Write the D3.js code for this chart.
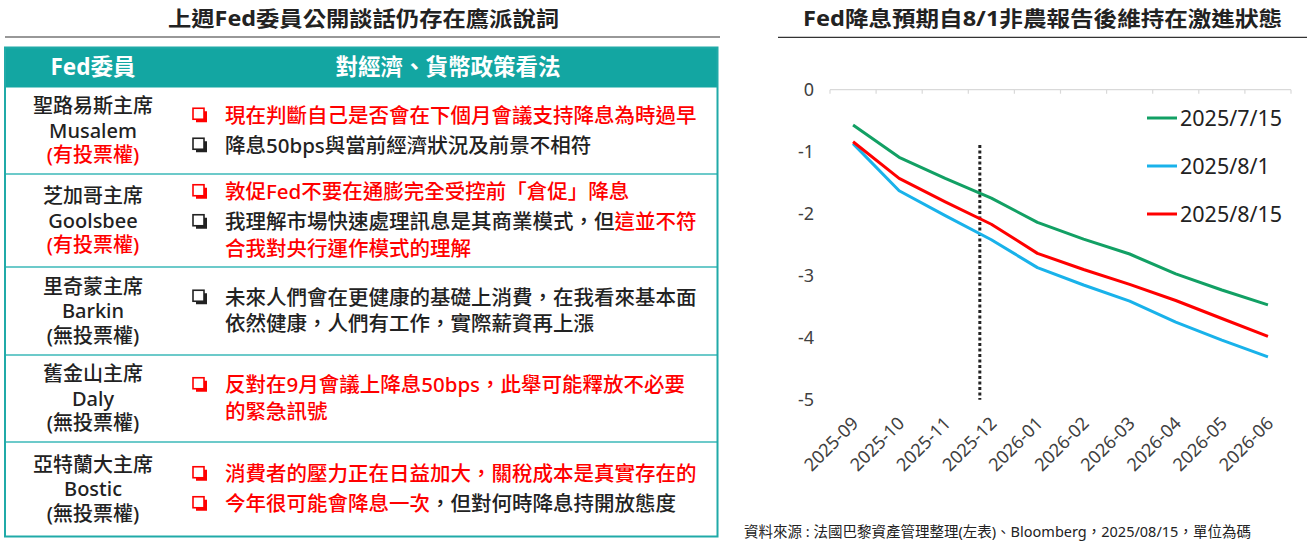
<!DOCTYPE html>
<html>
<head>
<meta charset="utf-8">
<script src="https://cdn.jsdelivr.net/npm/d3@7"></script>
<style>
  body { margin: 0; background: #fff; }
  svg { display: block; font-family: "Noto Sans", "Noto Sans CJK TC", sans-serif; }
</style>
</head>
<body>
<svg id="chart" width="1311" height="541"></svg>
<script>
// ---- left table: Fed members and what they said ----
const memberNames = ['聖路易斯主席', '芝加哥主席', '里奇蒙主席', '舊金山主席', '亞特蘭大主席'];
const memberEn = ['Musalem', 'Goolsbee', 'Barkin', 'Daly', 'Bostic'];
const memberVote = ['(有投票權)', '(有投票權)', '(無投票權)', '(無投票權)', '(無投票權)'];
const hasVote = [true, true, false, false, false];
// each member: list of bullets, each bullet a list of lines, each line a list of [text, highlighted]
const memberViews = [
  [
    [[['現在判斷自己是否會在下個月會議支持降息為時過早', true]]],
    [[['降息50bps與當前經濟狀況及前景不相符', false]]]
  ],
  [
    [[['敦促Fed不要在通膨完全受控前「倉促」降息', true]]],
    [[['我理解市場快速處理訊息是其商業模式，但', false], ['這並不符', true]],
     [['合我對央行運作模式的理解', true]]]
  ],
  [
    [[['未來人們會在更健康的基礎上消費，在我看來基本面', false]],
     [['依然健康，人們有工作，實際薪資再上漲', false]]]
  ],
  [
    [[['反對在9月會議上降息50bps，此舉可能釋放不必要', true]],
     [['的緊急訊號', true]]]
  ],
  [
    [[['消費者的壓力正在日益加大，關稅成本是真實存在的', true]]],
    [[['今年很可能會降息一次', true], ['，但對何時降息持開放態度', false]]]
  ]
];

// ---- right chart: implied cumulative cuts (in 25bp steps) ----
const months = ['2025-09', '2025-10', '2025-11', '2025-12', '2026-01',
                '2026-02', '2026-03', '2026-04', '2026-05', '2026-06'];
const cuts0715 = [-0.57, -1.09, -1.43, -1.75, -2.14, -2.41, -2.65, -2.97, -3.23, -3.47];
const cuts0801 = [-0.87, -1.63, -2.03, -2.42, -2.87, -3.15, -3.41, -3.75, -4.04, -4.31];
const cuts0815 = [-0.84, -1.43, -1.81, -2.17, -2.64, -2.90, -3.14, -3.40, -3.69, -3.98];
const seriesNames = ['2025/7/15', '2025/8/1', '2025/8/15'];
const yTicks = [0, -1, -2, -3, -4, -5];
// dotted marker sits between 2025-11 and 2025-12 (month index), from -0.89 down
const markerIndex = 2.75;
const markerTop = -0.89;

const red = '#ff0000', ink = '#222222', teal = '#13a6a2';
const svg = d3.select('#chart');

// titles
svg.append('text')
  .attr('x', 168).attr('y', 19).attr('dy', '0.35em')
  .attr('font-size', 21).attr('font-weight', 'bold').attr('fill', ink)
  .attr('textLength', 391).attr('lengthAdjust', 'spacingAndGlyphs')
  .text('上週Fed委員公開談話仍存在鷹派說詞');
svg.append('line').attr('x1', 5).attr('x2', 720).attr('y1', 37).attr('y2', 37)
  .attr('stroke', '#333').attr('stroke-width', 1.2);

svg.append('text')
  .attr('x', 803).attr('y', 19).attr('dy', '0.35em')
  .attr('font-size', 21).attr('font-weight', 'bold').attr('fill', ink)
  .attr('textLength', 479).attr('lengthAdjust', 'spacingAndGlyphs')
  .text('Fed降息預期自8/1非農報告後維持在激進狀態');
svg.append('line').attr('x1', 778).attr('x2', 1307).attr('y1', 37.3).attr('y2', 37.3)
  .attr('stroke', '#333').attr('stroke-width', 1.2);

// ---- table ----
const rowEdges = [87.5, 174, 267, 355, 442, 536.5];
const nameX = 93, boxX = 193, textX = 225;

const table = svg.append('g').attr('font-weight', 500);
table.append('rect').attr('x', 5).attr('y', 47.5).attr('width', 713).attr('height', 40)
  .attr('fill', teal);
table.append('text').attr('x', nameX).attr('y', 67.5).attr('dy', '0.35em')
  .attr('text-anchor', 'middle').attr('fill', '#fff').attr('font-size', 22.5).attr('font-weight', 'bold')
  .text('Fed委員');
table.append('text').attr('x', 448).attr('y', 67.5).attr('dy', '0.35em')
  .attr('text-anchor', 'middle').attr('fill', '#fff').attr('font-size', 22.5).attr('font-weight', 'bold')
  .text('對經濟、貨幣政策看法');

// row separators
table.selectAll('line.sep')
  .data(rowEdges.slice(1, -1))
  .join('line')
  .attr('class', 'sep')
  .attr('x1', 5).attr('x2', 718).attr('y1', d => d).attr('y2', d => d)
  .attr('stroke', '#6ccaca').attr('stroke-width', 2);

memberNames.forEach((name, i) => {
  const cy = (rowEdges[i] + rowEdges[i + 1]) / 2;
  const g = table.append('g');

  [name, memberEn[i], memberVote[i]].forEach((t, k) => {
    g.append('text')
      .attr('x', nameX).attr('y', cy + (k - 1) * 24.5).attr('dy', '0.35em')
      .attr('text-anchor', 'middle').attr('font-size', 20)
      .attr('fill', k === 2 && hasVote[i] ? red : ink)
      .text(t);
  });

  // lay out bullet lines: 26.5 between wrapped lines, 30 between bullets
  const lines = [];
  let pos = 0;
  memberViews[i].forEach((bullet, b) => {
    bullet.forEach((line, l) => {
      if (b > 0 || l > 0) pos += l === 0 ? 30 : 26.5;
      lines.push({ pos, line, first: l === 0 });
    });
  });
  const offset = cy - pos / 2;

  lines.forEach(({ pos, line, first }) => {
    const ly = offset + pos;
    if (first) {
      const c = line[0][1] ? red : ink;
      g.append('rect').attr('x', boxX + 3).attr('y', ly - 4.5).attr('width', 11).attr('height', 11)
        .attr('fill', c);
      g.append('rect').attr('x', boxX).attr('y', ly - 7.5).attr('width', 11).attr('height', 11)
        .attr('fill', '#fff').attr('stroke', c).attr('stroke-width', 1.6);
    }
    const t = g.append('text').attr('x', textX).attr('y', ly).attr('dy', '0.35em')
      .attr('font-size', 20.5);
    line.forEach(([s, hi]) => {
      t.append('tspan').attr('fill', hi ? red : ink).text(s);
    });
  });
});

table.append('rect').attr('x', 5).attr('y', 47.5).attr('width', 712.5).attr('height', 489)
  .attr('fill', 'none').attr('stroke', '#20aaa8').attr('stroke-width', 2);

// ---- line chart ----
const x = d3.scaleBand().domain(months).range([830, 1291]).padding(0);
const y = d3.scaleLinear().domain([-5, 0]).range([399.7, 89.7]);
const xc = i => x.range()[0] + (i + 0.5) * x.step();

// zero line with category boundary ticks
const zero = svg.append('g').attr('stroke', '#d9d9d9').attr('stroke-width', 1.2);
zero.append('line').attr('x1', x.range()[0]).attr('x2', x.range()[1])
  .attr('y1', y(0)).attr('y2', y(0));
zero.selectAll('line.tk')
  .data(months.map(m => x(m)).concat([x.range()[1]]))
  .join('line')
  .attr('class', 'tk')
  .attr('x1', d => d).attr('x2', d => d)
  .attr('y1', y(0)).attr('y2', y(0) + 4);

// y labels
const yAxis = svg.append('g')
  .attr('transform', `translate(${x.range()[0]},0)`)
  .call(d3.axisLeft(y).tickValues(yTicks).tickSize(0).tickPadding(16).tickFormat(d => String(d)));
yAxis.select('.domain').remove();
yAxis.selectAll('text').attr('font-size', 18).attr('fill', '#404040')
  .attr('font-family', '"Noto Sans", sans-serif');

// x labels, rotated
svg.append('g').selectAll('text')
  .data(months)
  .join('text')
  .attr('transform', (d, i) => `translate(${xc(i) + 2},${420}) rotate(-45)`)
  .attr('text-anchor', 'end').attr('dy', '0.35em')
  .attr('font-size', 18).attr('fill', '#404040')
  .text(d => d);

// dotted marker
svg.append('line')
  .attr('x1', xc(markerIndex)).attr('x2', xc(markerIndex))
  .attr('y1', y(markerTop)).attr('y2', y(-5))
  .attr('stroke', '#222').attr('stroke-width', 3).attr('stroke-dasharray', '3 2.5');

const series = [cuts0715, cuts0801, cuts0815];
const colors = ['#12a064', '#19b2ea', red];
const line = d3.line().x((d, i) => xc(i)).y(d => y(d));

svg.append('g').selectAll('path')
  .data(series)
  .join('path')
  .attr('fill', 'none')
  .attr('stroke', (d, i) => colors[i])
  .attr('stroke-width', 3)
  .attr('stroke-linejoin', 'round')
  .attr('d', line);

// legend
const legend = svg.append('g').selectAll('g')
  .data(seriesNames)
  .join('g')
  .attr('transform', (d, i) => `translate(1147,${118 + i * 48})`);
legend.append('line').attr('x1', 0).attr('x2', 30)
  .attr('stroke', (d, i) => colors[i]).attr('stroke-width', 3);
legend.append('text').attr('x', 33).attr('dy', '0.35em')
  .attr('font-size', 21.5).attr('fill', ink)
  .text(d => d);

// source note
svg.append('text')
  .attr('x', 744).attr('y', 532).attr('dy', '0.35em')
  .attr('font-size', 14.5).attr('fill', ink)
  .text('資料來源 : 法國巴黎資產管理整理(左表)、Bloomberg，2025/08/15，單位為碼');
</script>
</body>
</html>
